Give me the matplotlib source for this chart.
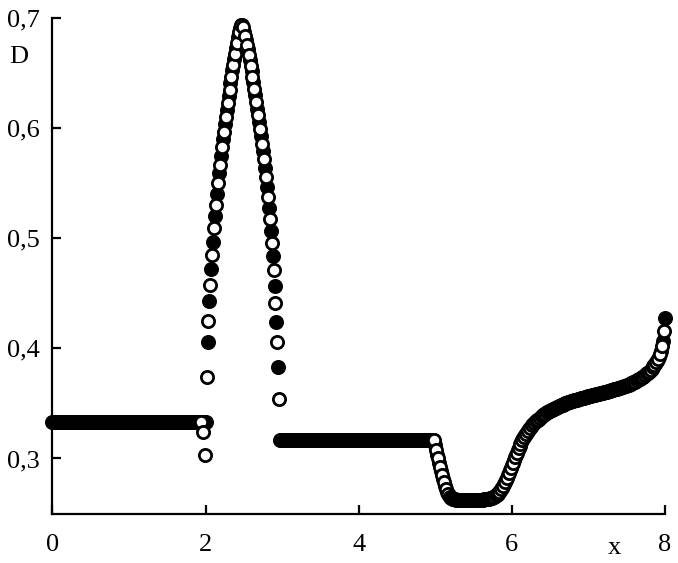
import numpy as np
import matplotlib
matplotlib.use('Agg')
import matplotlib.pyplot as plt

plt.rcParams['font.family'] = ['Liberation Serif', 'DejaVu Serif']

# Grid spacing of each series (open points sit half a step later)
step = 0.025

# Filled circles: x = 0, 0.025, ..., 8
filled_left = [0.333] * 81                     # x = 0 .. 2.0
filled_peak = [0.406, 0.443, 0.472, 0.497, 0.520, 0.540, 0.559, 0.575,
               0.590, 0.604, 0.617, 0.629, 0.641, 0.653, 0.663, 0.673,
               0.683, 0.691, 0.694, 0.688, 0.680, 0.672, 0.662, 0.652,
               0.642, 0.630, 0.618, 0.606, 0.593, 0.579, 0.564, 0.547,
               0.528, 0.507, 0.484, 0.457, 0.424, 0.383, 0.3165]   # x = 2.025 .. 2.975
filled_mid = [0.3165] * 80                     # x = 3.0 .. 4.975
filled_right = [
    0.312, 0.3035, 0.296, 0.2888, 0.2815, 0.2752, 0.270, 0.2665,
    0.2644, 0.2634, 0.2629, 0.2627, 0.2625, 0.2624, 0.2623, 0.2623,
    0.2622, 0.2622, 0.2622, 0.2622, 0.2623, 0.2623, 0.2624, 0.2625,
    0.2626, 0.2627, 0.2629, 0.2632, 0.2635, 0.2641, 0.2648, 0.2658,
    0.2672, 0.2689, 0.2708, 0.2735, 0.2768, 0.2805, 0.2848, 0.2893,
    0.294, 0.2987, 0.3032, 0.3075, 0.3115, 0.315, 0.3183, 0.3213,
    0.3241, 0.3266, 0.3289, 0.331, 0.3329, 0.3346, 0.3362, 0.3377,
    0.339, 0.3402, 0.3414, 0.3425, 0.3435, 0.3445, 0.3454, 0.3463,
    0.3471, 0.3479, 0.3486, 0.3493, 0.35, 0.3507, 0.3513, 0.3519,
    0.3525, 0.3531, 0.3536, 0.3541, 0.3546, 0.3551, 0.3556, 0.356,
    0.3565, 0.3569, 0.3574, 0.3578, 0.3582, 0.3587, 0.3591, 0.3595,
    0.36, 0.3604, 0.3609, 0.3614, 0.3619, 0.3624, 0.3629, 0.3634,
    0.364, 0.3646, 0.3652, 0.3658, 0.3665, 0.3672, 0.3679, 0.3687,
    0.3695, 0.3704, 0.3714, 0.3725, 0.3737, 0.375, 0.3765, 0.3781,
    0.3798, 0.3817, 0.3838, 0.3862, 0.389, 0.3925, 0.3975, 0.407,
    0.428]                                     # x = 5.0 .. 8.0

# Open circles: x = 0.0125, 0.0375, ..., 7.9875
open_left = [0.333] * 78                       # x = 0.0125 .. 1.9375
open_peak = [0.324, 0.303,
             0.374, 0.425, 0.458, 0.485, 0.509, 0.530, 0.550, 0.567,
             0.583, 0.597, 0.6105, 0.623, 0.635, 0.647, 0.658, 0.668,
             0.678, 0.688, 0.694, 0.692, 0.684, 0.676, 0.667, 0.657,
             0.647, 0.636, 0.624, 0.612, 0.599, 0.586, 0.572, 0.556,
             0.538, 0.518, 0.496, 0.471, 0.441, 0.406, 0.354]  # x = 1.9625 .. 2.9625
open_mid = [0.3165] * 81                       # x = 2.9875 .. 4.9875
open_right = [
    0.3075, 0.300, 0.2925, 0.285, 0.2782, 0.2725, 0.2681, 0.2653,
    0.2638, 0.2631, 0.2628, 0.2626, 0.2624, 0.2623, 0.2623, 0.2622,
    0.2622, 0.2622, 0.2622, 0.2622, 0.2623, 0.2624, 0.2624, 0.2625,
    0.2626, 0.2628, 0.263, 0.2633, 0.2638, 0.2644, 0.2653, 0.2665,
    0.268, 0.2698, 0.2721, 0.2751, 0.2786, 0.2826, 0.287, 0.2916,
    0.2963, 0.301, 0.3054, 0.3095, 0.3133, 0.3167, 0.3198, 0.3227,
    0.3254, 0.3278, 0.33, 0.332, 0.3338, 0.3354, 0.337, 0.3384,
    0.3396, 0.3408, 0.342, 0.343, 0.344, 0.345, 0.3459, 0.3467,
    0.3475, 0.3483, 0.349, 0.3497, 0.3504, 0.351, 0.3516, 0.3522,
    0.3528, 0.3534, 0.3539, 0.3544, 0.3549, 0.3554, 0.3558, 0.3563,
    0.3567, 0.3572, 0.3576, 0.358, 0.3585, 0.3589, 0.3593, 0.3598,
    0.3602, 0.3607, 0.3612, 0.3617, 0.3622, 0.3627, 0.3632, 0.3637,
    0.3643, 0.3649, 0.3655, 0.3662, 0.3669, 0.3676, 0.3683, 0.3691,
    0.3699, 0.3709, 0.372, 0.3731, 0.3744, 0.3758, 0.3773, 0.379,
    0.3808, 0.3828, 0.385, 0.3876, 0.3907, 0.395, 0.402, 0.416]  # x = 5.0125 .. 7.9875

y_filled = np.array(filled_left + filled_peak + filled_mid + filled_right)
y_open = np.array(open_left + open_peak + open_mid + open_right)
x_filled = np.arange(len(y_filled)) * step
x_open = step / 2 + np.arange(len(y_open)) * step

xticks = [0, 2, 4, 6, 8]
xticklabels = ['0', '2', '4', '6', '8']
yticks = [0.3, 0.4, 0.5, 0.6, 0.7]
yticklabels = ['0,3', '0,4', '0,5', '0,6', '0,7']

fig = plt.figure(figsize=(6.78, 5.63), dpi=100)
ax = fig.add_axes([0.0774, 0.0879, 0.9034, 0.8796])

ms = 8.8
mew = 2.0
ax.plot(x_filled, y_filled, linestyle='none', marker='o', ms=ms,
        mfc='black', mec='black', mew=mew, zorder=2, clip_on=False)
ax.plot(x_open, y_open, linestyle='none', marker='o', ms=ms,
        mfc='white', mec='black', mew=mew, zorder=3, clip_on=False)

ax.set_xlim(0, 8)
ax.set_ylim(0.25, 0.7)
ax.set_xticks(xticks)
ax.set_xticklabels(xticklabels)
ax.set_yticks(yticks)
ax.set_yticklabels(yticklabels)

for side in ['top', 'right']:
    ax.spines[side].set_visible(False)
for side in ['left', 'bottom']:
    ax.spines[side].set_linewidth(1.6)

ax.tick_params(axis='both', direction='in', length=6.5, width=1.6,
               labelsize=19, colors='black')
ax.tick_params(axis='x', pad=15)
ax.tick_params(axis='y', pad=9)

fig.text(19 / 678, 1 - 57 / 563, 'D', fontsize=19, ha='center', va='center')
fig.text(614 / 678, 1 - 548 / 563, 'x', fontsize=19, ha='center', va='center')

fig.savefig('out.png', dpi=100)
